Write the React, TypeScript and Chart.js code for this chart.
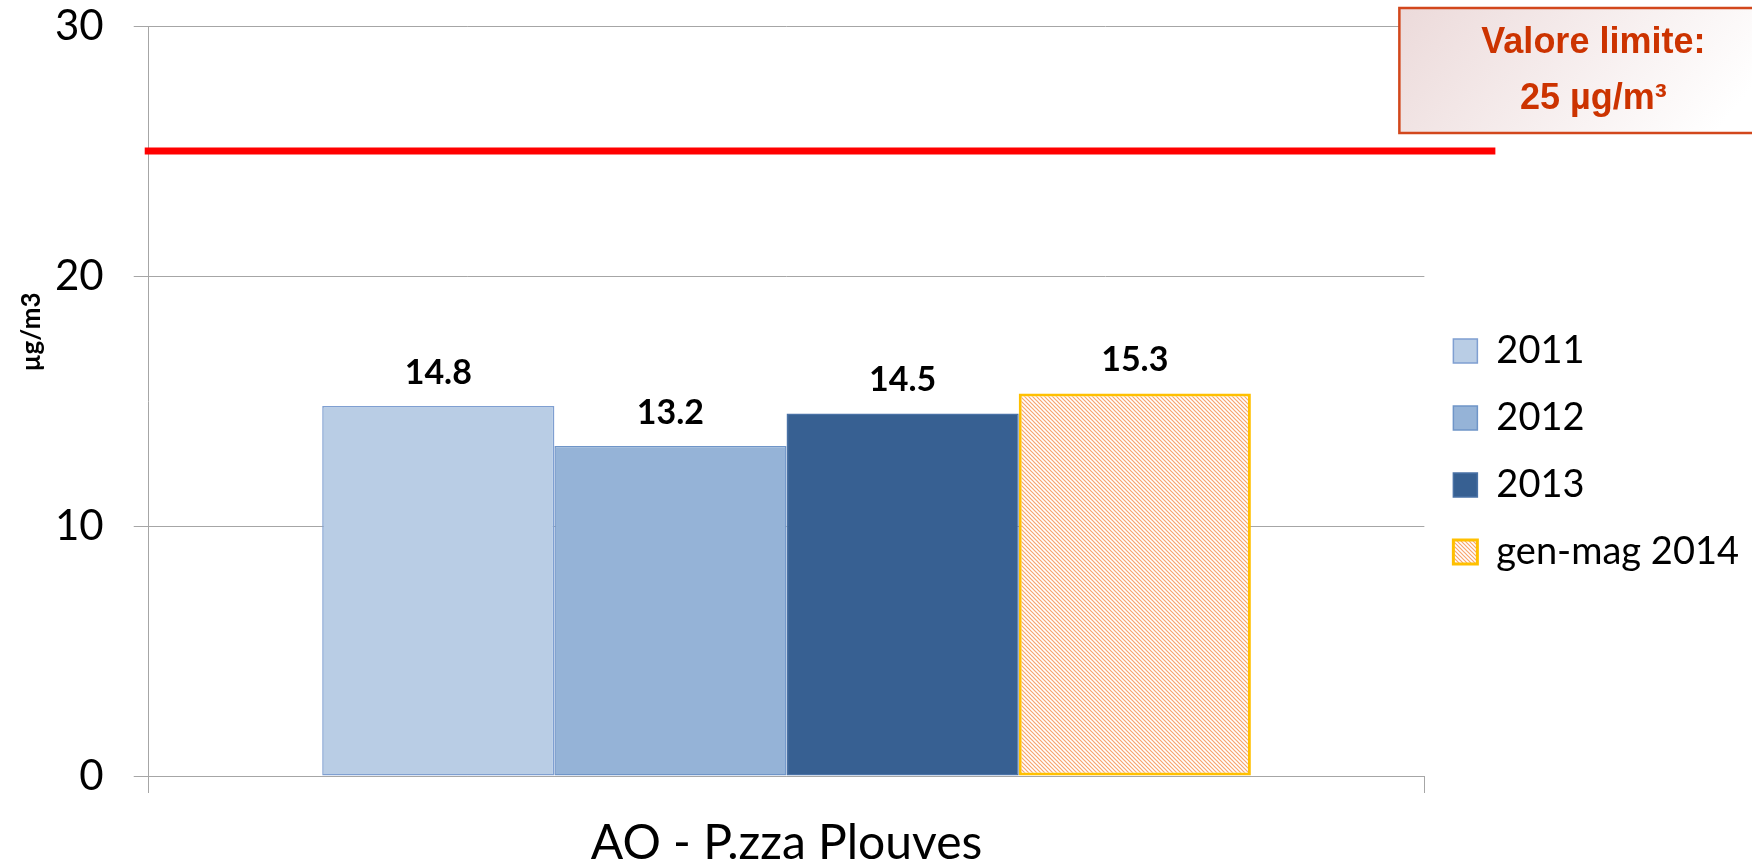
import React, { useEffect, useRef } from 'react';
import { Chart, registerables } from 'chart.js';

Chart.register(...registerables);

const categories = ['AO - P.zza Plouves'];
const seriesLabels = ['2011', '2012', '2013', 'gen-mag 2014'];
const values2011 = [14.8];
const values2012 = [13.2];
const values2013 = [14.5];
const values2014 = [15.3];
const limitValue = 25;
const yMin = 0;
const yMax = 30;
const yStep = 10;
const limitLabelLines = ['Valore limite:', '25 µg/m³'];
const yAxisTitle = 'µg/m3';

function makeHatch(): CanvasPattern | string {
  const s = 4;
  const c = document.createElement('canvas');
  c.width = s;
  c.height = s;
  const g = c.getContext('2d');
  if (!g) return '#fbc9a4';
  g.fillStyle = '#ffffff';
  g.fillRect(0, 0, s, s);
  g.strokeStyle = '#f7a46e';
  g.lineWidth = 1.2;
  g.beginPath();
  g.moveTo(-1, -1);
  g.lineTo(s + 1, s + 1);
  g.moveTo(s - 1, -1);
  g.lineTo(s + 1, 1);
  g.moveTo(-1, s - 1);
  g.lineTo(1, s + 1);
  g.stroke();
  const p = g.createPattern(c, 'repeat');
  return p || '#fbc9a4';
}

const overlayPlugin = {
  id: 'overlayPlugin',
  afterDatasetsDraw(chart: any) {
    const { ctx } = chart;
    ctx.save();
    ctx.font = 'bold 34px Lato';
    ctx.fillStyle = '#000000';
    ctx.textAlign = 'center';
    ctx.textBaseline = 'middle';
    chart.data.datasets.forEach((ds: any, i: number) => {
      const meta = chart.getDatasetMeta(i);
      meta.data.forEach((el: any, j: number) => {
        ctx.fillText(Number(ds.data[j]).toFixed(1), el.x, el.y - 33);
      });
    });
    ctx.restore();
  },
  afterDraw(chart: any) {
    const { ctx, chartArea, scales, width } = chart;
    const y = scales.y;
    ctx.save();
    // limit line
    const ly = y.getPixelForValue(limitValue);
    ctx.strokeStyle = '#ff0000';
    ctx.lineWidth = 7;
    ctx.beginPath();
    ctx.moveTo(chartArea.left - 4, ly);
    ctx.lineTo(chartArea.right + 71, ly);
    ctx.stroke();

    // limit box
    const bx = chartArea.right - 25;
    const by = 8;
    const bw = width - bx + 10;
    const bh = 125;
    const grad = ctx.createLinearGradient(bx, by, bx + 250, by + bh + 80);
    grad.addColorStop(0, '#ecdada');
    grad.addColorStop(1, '#ffffff');
    ctx.fillStyle = grad;
    ctx.fillRect(bx, by, bw, bh);
    ctx.strokeStyle = '#d2471c';
    ctx.lineWidth = 2.5;
    ctx.strokeRect(bx, by, bw, bh);
    ctx.fillStyle = '#cc3300';
    ctx.font = 'bold 36px "Liberation Sans", Arial, sans-serif';
    ctx.textAlign = 'center';
    ctx.textBaseline = 'middle';
    const cx = bx + 194;
    ctx.fillText(limitLabelLines[0], cx, by + 35);
    ctx.fillText(limitLabelLines[1], cx, by + 91);

    // y axis title
    ctx.fillStyle = '#000000';
    ctx.font = 'bold 26px Lato';
    ctx.translate(32, chartArea.top + chartArea.height * 0.408);
    ctx.rotate(-Math.PI / 2);
    ctx.textAlign = 'center';
    ctx.textBaseline = 'middle';
    ctx.fillText(yAxisTitle, 0, 0);
    ctx.restore();
  },
};

export default function App() {
  const ref = useRef<HTMLCanvasElement | null>(null);

  useEffect(() => {
    if (!ref.current) return;
    const hatch = makeHatch();
    const chart = new Chart(ref.current, {
      type: 'bar',
      data: {
        labels: categories,
        datasets: [
          {
            label: seriesLabels[0],
            data: values2011,
            backgroundColor: '#b9cde5',
            borderColor: '#7f9fd1',
            borderWidth: 1.5,
            borderSkipped: false,
          },
          {
            label: seriesLabels[1],
            data: values2012,
            backgroundColor: '#95b3d7',
            borderColor: '#6f95c8',
            borderWidth: 1.5,
            borderSkipped: false,
          },
          {
            label: seriesLabels[2],
            data: values2013,
            backgroundColor: '#376092',
            borderColor: '#4a72a6',
            borderWidth: 1.5,
            borderSkipped: false,
          },
          {
            label: seriesLabels[3],
            data: values2014,
            backgroundColor: hatch as any,
            borderColor: '#ffc000',
            borderWidth: 3,
            borderSkipped: false,
          },
        ],
      },
      options: {
        animation: false,
        responsive: true,
        maintainAspectRatio: false,
        layout: { padding: { left: 25, right: 3, top: 26, bottom: 0 } },
        datasets: {
          bar: { barPercentage: 1, categoryPercentage: 0.728 },
        },
        plugins: {
          tooltip: { enabled: false },
          legend: {
            position: 'right',
            align: 'center',
            title: { display: true, text: ' ', padding: 0, font: { size: 10, lineHeight: 1.1 } },
            labels: {
              font: { family: 'Lato', size: 38 },
              color: '#000000',
              boxWidth: 24,
              boxHeight: 24,
              padding: 29,
            },
          },
        },
        scales: {
          x: {
            type: 'category',
            afterFit: (scale: any) => {
              scale.paddingLeft = 0;
              scale.paddingRight = 0;
              scale.height = 90;
            },
            grid: {
              display: true,
              drawOnChartArea: false,
              drawTicks: true,
              tickLength: 17,
              color: '#a6a6a6',
              offset: true,
            },
            border: { display: true, color: '#a6a6a6', width: 1 },
            ticks: {
              font: { family: 'Lato', size: 48 },
              color: '#000000',
              padding: 22,
            },
          },
          y: {
            min: yMin,
            max: yMax,
            afterFit: (scale: any) => {
              scale.paddingTop = 0;
              scale.paddingBottom = 0;
            },
            ticks: {
              stepSize: yStep,
              font: { family: 'Lato', size: 42 },
              color: '#000000',
              padding: 30,
            },
            grid: {
              color: '#a6a6a6',
              tickLength: 15,
              drawTicks: true,
            },
            border: { display: true, color: '#a6a6a6', width: 1 },
          },
        },
      },
      plugins: [overlayPlugin],
    });
    return () => chart.destroy();
  }, []);

  return (
    <div style={{ position: 'absolute', left: 0, top: 0, width: 1752, height: 866, background: '#ffffff' }}>
      <canvas ref={ref} />
    </div>
  );
}
